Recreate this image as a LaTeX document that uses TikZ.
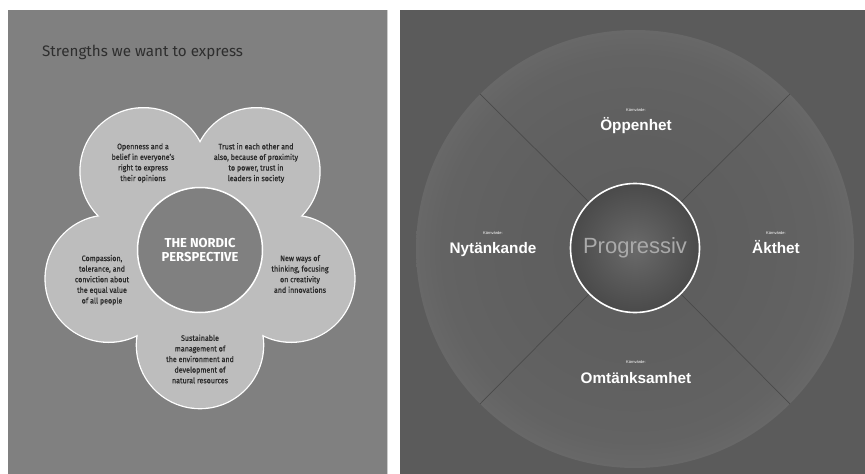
\documentclass[tikz,border=0pt]{standalone}
\usepackage{fontspec}
\setmainfont{Fira Sans}
\newfontfamily\petalfont[FakeStretch=0.9,FakeBold=0.5]{Fira Sans}
\newfontfamily\arialfont{Liberation Sans}
\definecolor{leftbg}{HTML}{808080}
\definecolor{rightbg}{HTML}{5B5B5B}
\definecolor{petalfill}{HTML}{BDBDBD}
\definecolor{darktext}{HTML}{2A2A2A}
\definecolor{titletext}{HTML}{2E2E2E}
\definecolor{divider}{HTML}{4A4A4A}
\definecolor{progtext}{HTML}{AAAAAA}
\pgfdeclareradialshading{bigdisk}{\pgfpoint{0bp}{0bp}}{%
  color(0bp)=(rgb,255:red,92;green,92;blue,92);
  color(15bp)=(rgb,255:red,96;green,96;blue,96);
  color(22bp)=(rgb,255:red,99;green,99;blue,99);
  color(25bp)=(rgb,255:red,104;green,104;blue,104);
  color(50bp)=(rgb,255:red,104;green,104;blue,104)}
\pgfdeclareradialshading{hubshade}{\pgfpoint{0bp}{0bp}}{%
  color(0bp)=(rgb,255:red,106;green,106;blue,106);
  color(25bp)=(rgb,255:red,74;green,74;blue,74);
  color(50bp)=(rgb,255:red,74;green,74;blue,74)}
\tikzset{
  petal/.style={circle, minimum size=126pt, inner sep=0pt, outer sep=0pt, draw=white, line width=2.6pt},
  petaltext/.style={align=center, text=darktext, font=\petalfont\fontsize{7.9}{10.6}\selectfont},
  kv/.style={anchor=base, text=white, font=\arialfont\fontsize{4}{5}\selectfont, inner sep=0pt},
  val/.style={anchor=base, text=white, font=\arialfont\bfseries\fontsize{15.3}{18}\selectfont, inner sep=0pt},
  divline/.style={draw=divider, line width=0.7pt}
}
\begin{document}
\begin{tikzpicture}[x=1pt,y=-1pt]
\useasboundingbox (0,0) rectangle (865,474);
\fill[white] (0,0) rectangle (865,474);
% left panel
\fill[leftbg] (8,10) rectangle (388,474);
\draw[color=white!60!leftbg, line width=0.8pt] (387.6,10) -- (387.6,474);
\node[anchor=base west, inner sep=0pt, text=titletext, font=\fontsize{15.2}{18}\selectfont] (title) at (42,56) {Strengths we want to express};
% petals (outline pass)
\node[petal] (pb) at (200,345) {};
\node[petal] (pr) at (291.3,278.7) {};
\node[petal] (ptr) at (256.4,171.3) {};
\node[petal] (ptl) at (143.6,171.3) {};
\node[petal] (pl) at (108.7,278.7) {};
% fill pass
\foreach \p in {pb,pr,ptr,ptl,pl} \fill[petalfill] (\p) circle (63);
\fill[petalfill] (200,249) circle (72);
% centre
\node[circle, minimum size=125pt, inner sep=0pt, fill=leftbg, draw=white, line width=1.5pt, align=center, text=white,
  font=\bfseries\fontsize{13}{14.5}\selectfont] (core) at (200,250) {THE NORDIC\\PERSPECTIVE};
% petal texts
\node[petaltext] (tl) at (143,163) {Openness and a\\belief in everyone’s\\right to express\\their opinions};
\node[petaltext] (tr) at (256,163) {Trust in each other and\\also, because of proximity\\to power, trust in\\leaders in society};
\node[petaltext] (tlft) at (102,280) {Compassion,\\tolerance, and\\conviction about\\the equal value\\of all people};
\node[petaltext] (trgt) at (300,274) {New ways of\\thinking, focusing\\on creativity\\and innovations};
\node[petaltext] (tbot) at (200,359) {Sustainable\\management of\\the environment and\\development of\\natural resources};
% right panel
\fill[rightbg] (400,10) rectangle (865,474);
\node[circle, minimum size=438pt, inner sep=0pt, outer sep=0pt, shading=bigdisk] (disk) at (635,249) {};
\node[circle, minimum size=129pt, inner sep=0pt, outer sep=0pt, shading=hubshade] (hubbg) at (635,248) {};
\foreach \a in {45,135,225,315} \draw[divline] (hubbg.\a) -- (disk.\a);
\node[circle, minimum size=129pt, inner sep=0pt, outer sep=0pt, draw=white, line width=1.6pt, text=progtext,
  font=\arialfont\fontsize{22}{26}\selectfont] (hub) at (635,248) {Progressiv};
\node[kv] (k1) at (636,111) {Kärnvärde:};
\node[val] (v1) at (636,130) {Öppenhet};
\node[kv] (k2) at (493,234) {Kärnvärde:};
\node[val] (v2) at (493,253) {Nytänkande};
\node[kv] (k3) at (776,234) {Kärnvärde:};
\node[val] (v3) at (776,253) {Äkthet};
\node[kv] (k4) at (636,363) {Kärnvärde:};
\node[val] (v4) at (636,383) {Omtänksamhet};
\end{tikzpicture}
\end{document}
